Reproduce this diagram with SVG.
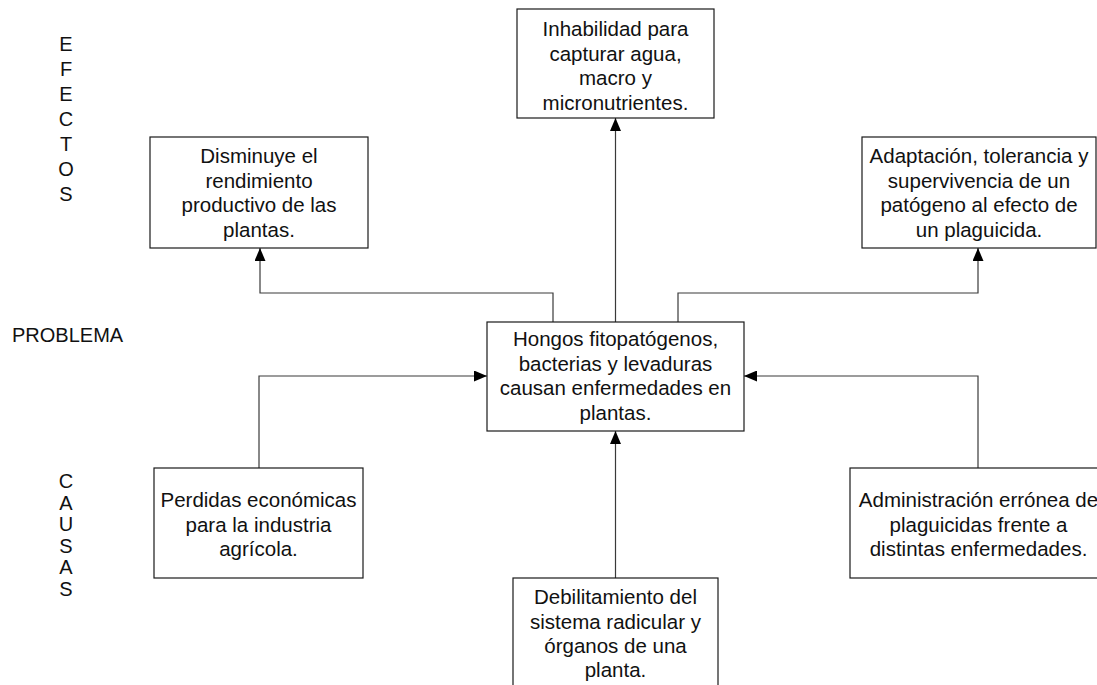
<svg xmlns="http://www.w3.org/2000/svg" width="1097" height="685" viewBox="0 0 1097 685">
<style>
.box{fill:#ffffff;stroke:#1a1a1a;stroke-width:1.2}
.t{font-family:"Liberation Sans",Arial,sans-serif;font-size:20.5px;fill:#111;text-anchor:middle}
.l{font-family:"Liberation Sans",Arial,sans-serif;font-size:20px;fill:#111}
.c{fill:none;stroke:#3a3a3a;stroke-width:1.2}
</style>
<defs>
<marker id="ah" markerWidth="13" markerHeight="11" refX="13" refY="5.5" orient="auto" markerUnits="userSpaceOnUse">
<path d="M0,0 L13,5.5 L0,11 Z" fill="#000"/>
</marker>
</defs>
<rect width="1097" height="685" fill="#ffffff"/>

<g id="labels">
<text class="l" text-anchor="middle">
<tspan x="66" y="51">E</tspan><tspan x="66" y="76">F</tspan><tspan x="66" y="101">E</tspan><tspan x="66" y="126">C</tspan><tspan x="66" y="151">T</tspan><tspan x="66" y="176">O</tspan><tspan x="66" y="201">S</tspan>
</text>
<text class="l" x="12" y="342">PROBLEMA</text>
<text class="l" text-anchor="middle">
<tspan x="66" y="488">C</tspan><tspan x="66" y="509.5">A</tspan><tspan x="66" y="531">U</tspan><tspan x="66" y="552.5">S</tspan><tspan x="66" y="574">A</tspan><tspan x="66" y="595.5">S</tspan>
</text>
</g>

<g id="connectors">
<path class="c" d="M615.5,322 L615.5,118" marker-end="url(#ah)"/>
<path class="c" d="M553,322 L553,293 L260,293 L260,248" marker-end="url(#ah)"/>
<path class="c" d="M678,322 L678,293 L978,293 L978,248" marker-end="url(#ah)"/>
<path class="c" d="M259,468 L259,376 L487,376" marker-end="url(#ah)"/>
<path class="c" d="M978,468 L978,376 L744,376" marker-end="url(#ah)"/>
<path class="c" d="M615.5,578 L615.5,431" marker-end="url(#ah)"/>
</g>

<g id="efecto-agua">
<rect class="box" x="517" y="9" width="197" height="109"/>
<text class="t">
<tspan x="615.5" y="36">Inhabilidad para</tspan><tspan x="615.5" y="60.5">capturar agua,</tspan><tspan x="615.5" y="85">macro y</tspan><tspan x="615.5" y="109.5">micronutrientes.</tspan>
</text>
</g>

<g id="efecto-rendimiento">
<rect class="box" x="150" y="137" width="218" height="111"/>
<text class="t">
<tspan x="259" y="163">Disminuye el</tspan><tspan x="259" y="187.5">rendimiento</tspan><tspan x="259" y="212">productivo de las</tspan><tspan x="259" y="236.5">plantas.</tspan>
</text>
</g>

<g id="efecto-adaptacion">
<rect class="box" x="862" y="137" width="234" height="111"/>
<text class="t">
<tspan x="979" y="163">Adaptación, tolerancia y</tspan><tspan x="979" y="187.5">supervivencia de un</tspan><tspan x="979" y="212">patógeno al efecto de</tspan><tspan x="979" y="236.5">un plaguicida.</tspan>
</text>
</g>

<g id="problema">
<rect class="box" x="487" y="322" width="257" height="109"/>
<text class="t">
<tspan x="615.5" y="346">Hongos fitopatógenos,</tspan><tspan x="615.5" y="370.5">bacterias y levaduras</tspan><tspan x="615.5" y="395">causan enfermedades en</tspan><tspan x="615.5" y="419.5">plantas.</tspan>
</text>
</g>

<g id="causa-perdidas">
<rect class="box" x="154" y="468" width="209" height="110"/>
<text class="t">
<tspan x="258.5" y="507">Perdidas económicas</tspan><tspan x="258.5" y="531.5">para la industria</tspan><tspan x="258.5" y="556">agrícola.</tspan>
</text>
</g>

<g id="causa-administracion">
<rect class="box" x="850" y="468" width="257" height="110"/>
<text class="t">
<tspan x="978.5" y="507">Administración errónea de</tspan><tspan x="978.5" y="531.5">plaguicidas frente a</tspan><tspan x="978.5" y="556">distintas enfermedades.</tspan>
</text>
</g>

<g id="causa-debilitamiento">
<rect class="box" x="513" y="578" width="205" height="120"/>
<text class="t">
<tspan x="615.5" y="604">Debilitamiento del</tspan><tspan x="615.5" y="628.5">sistema radicular y</tspan><tspan x="615.5" y="653">órganos de una</tspan><tspan x="615.5" y="677">planta.</tspan>
</text>
</g>
</svg>
